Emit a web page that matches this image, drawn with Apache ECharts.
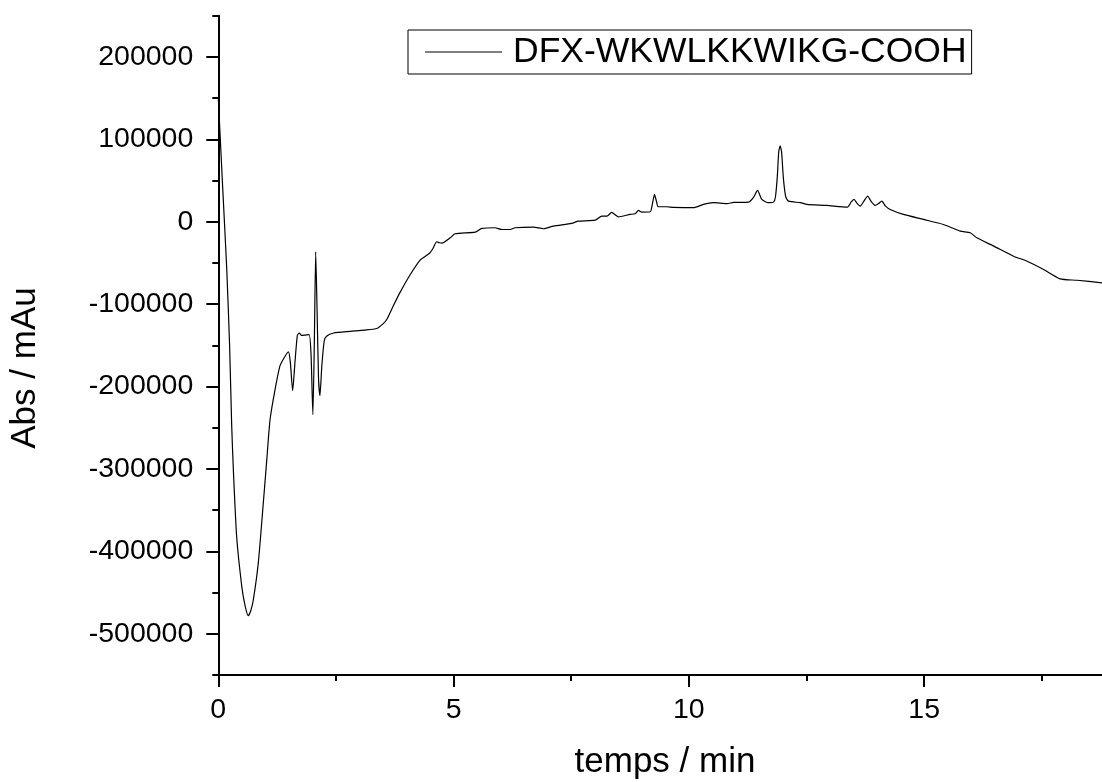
<!DOCTYPE html>
<html>
<head>
<meta charset="utf-8">
<script src="https://cdn.jsdelivr.net/npm/echarts@6/dist/echarts.min.js"></script>
<style>
html,body{margin:0;padding:0;background:#fff;}
#chart{width:1102px;height:782px;}
</style>
</head>
<body>
<div id="chart"></div>
<script>
// ---- data ----
const seriesName = 'DFX-WKWLKKWIKG-COOH';
const xTitle = 'temps / min';
const yTitle = 'Abs / mAu';
const xMajorTicks = [0, 5, 10, 15];
const xMinorTicks = [2.5, 7.5, 12.5, 17.5];
const yMajorTicks = [-500000, -400000, -300000, -200000, -100000, 0, 100000, 200000];
const yMinorTicks = [-550000, -450000, -350000, -250000, -150000, -50000, 50000, 150000, 250000];

const time = [
  0, 0.09, 0.18, 0.24, 0.285, 0.32, 0.39, 0.5, 0.57, 0.638, 0.69, 0.744, 0.85, 0.957, 1.03, 1.10,
  1.205, 1.31, 1.40, 1.49, 1.53, 1.58, 1.63, 1.68, 1.72, 1.77, 1.85, 1.93, 1.97, 2.01, 2.04, 2.07,
  2.10, 2.13, 2.16, 2.20, 2.25, 2.30, 2.45, 2.8, 3.1, 3.37, 3.50, 3.58, 3.72, 3.86, 4.08, 4.29,
  4.50, 4.57, 4.64, 4.70, 4.75, 4.93, 5.03, 5.46, 5.60, 5.88, 6.02, 6.20, 6.31, 6.70, 6.91, 7.12,
  7.51, 7.65, 8.01, 8.15, 8.26, 8.36, 8.50, 8.75, 8.86, 8.93, 9.00, 9.18, 9.22, 9.27, 9.31, 9.35,
  9.53, 9.67, 10.10, 10.31, 10.52, 10.81, 10.95, 11.27, 11.37, 11.46, 11.55, 11.69, 11.80, 11.84,
  11.88, 11.91, 11.94, 11.97, 12.01, 12.06, 12.12, 12.37, 12.51, 12.93, 13.37, 13.45, 13.51, 13.58,
  13.64, 13.72, 13.80, 13.88, 13.96, 14.03, 14.10, 14.18, 14.28, 14.56, 14.99, 15.41, 15.77, 15.98,
  16.12, 16.48, 16.90, 17.19, 17.54, 17.89, 18.25, 18.78
];
const absorbance = [
  150000, 45000, -58000, -150000, -248000, -301000, -382000, -443000, -466000, -478000, -472000, -459000, -414000, -341000, -289000, -240000,
  -204000, -175000, -165000, -158000, -170000, -205000, -170000, -138000, -135000, -138000, -137500, -137000, -160000, -234000, -150000, -36500,
  -110000, -190000, -211000, -175000, -145000, -139000, -135000, -133000, -131500, -129600, -124000, -118700, -102000, -86000, -64000, -46500,
  -37700, -31600, -24300, -25500, -26000, -19500, -14600, -12600, -8100, -7300, -9400, -9400, -7300, -6500, -8500, -5300,
  -2100, 700, 1900, 6800, 6800, 11300, 6000, 8900, 9700, 13700, 11700, 12100, 20000, 33200, 25000, 18200,
  18200, 17500, 17000, 21000, 23100, 21900, 23400, 23800, 29200, 38000, 27100, 23100, 23800, 30000,
  55000, 85000, 92000, 85000, 52000, 30000, 25000, 23100, 21000, 19800, 17700, 24000, 27100, 22000,
  19000, 25000, 31100, 24000, 19800, 22000, 25000, 19000, 14900, 8900, 2800, -3300, -11400, -13400,
  -19500, -29600, -41800, -47900, -58000, -69300, -71000, -74100
];

// ---- chart ----
const X_MIN = 0, X_MAX = 18.78, Y_MIN = -550000, Y_MAX = 250000;
const FONT = '"Liberation Sans", Arial, sans-serif';
const points = time.map((t, i) => [t, absorbance[i]]);

const chart = echarts.init(document.getElementById('chart'), null, {renderer: 'canvas'});
const axisLineStyle = {color: '#000', width: 2};
chart.setOption({
  animation: false,
  backgroundColor: '#fff',
  grid: {left: 218.3, top: 15.7, right: 0, bottom: 107, outerBoundsMode: 'none', containLabel: false},
  legend: {
    show: true,
    left: 408, top: 30,
    padding: [4, 5, 4, 17],
    borderColor: '#000', borderWidth: 1,
    icon: 'rect',
    itemWidth: 77, itemHeight: 1.3,
    itemStyle: {color: '#555', borderWidth: 0},
    textStyle: {fontFamily: FONT, fontSize: 35.5, color: '#000', padding: [0, 4, 0, 6]},
    data: [seriesName]
  },
  xAxis: [{
    type: 'value', min: X_MIN, max: X_MAX, position: 'bottom',
    axisLine: {show: true, onZero: false, lineStyle: axisLineStyle},
    axisTick: {show: true, length: 12, lineStyle: axisLineStyle, customValues: xMajorTicks},
    axisLabel: {customValues: xMajorTicks, margin: 21, fontFamily: FONT, fontSize: 28.5, color: '#000', formatter: v => String(v)},
    splitLine: {show: false}
  }, {
    type: 'value', min: X_MIN, max: X_MAX, position: 'bottom', gridIndex: 0,
    axisLine: {show: false, onZero: false},
    axisTick: {show: true, length: 6, lineStyle: axisLineStyle, customValues: xMinorTicks},
    axisLabel: {show: false},
    splitLine: {show: false}
  }],
  yAxis: [{
    type: 'value', min: Y_MIN, max: Y_MAX, position: 'left',
    axisLine: {show: true, onZero: false, lineStyle: axisLineStyle},
    axisTick: {show: true, length: 12, lineStyle: axisLineStyle, customValues: yMajorTicks},
    axisLabel: {customValues: yMajorTicks, margin: 25, fontFamily: FONT, fontSize: 28.5, color: '#000', formatter: v => String(v)},
    splitLine: {show: false}
  }, {
    type: 'value', min: Y_MIN, max: Y_MAX, position: 'left', gridIndex: 0,
    axisLine: {show: false, onZero: false},
    axisTick: {show: true, length: 6, lineStyle: axisLineStyle, customValues: yMinorTicks},
    axisLabel: {show: false},
    splitLine: {show: false}
  }],
  graphic: [
    {type: 'text', x: 665, y: 762, style: {text: xTitle, font: '35px ' + FONT, fill: '#000', align: 'center', verticalAlign: 'middle'}},
    {type: 'text', x: 25, y: 368, rotation: Math.PI / 2, style: {text: yTitle, font: '35px ' + FONT, fill: '#000', align: 'center', verticalAlign: 'middle'}}
  ],
  series: [{
    name: seriesName, type: 'line', xAxisIndex: 0, yAxisIndex: 0,
    data: points, showSymbol: false, symbol: 'none', smooth: 0.2,
    lineStyle: {color: '#000', width: 1.2},
    clip: true
  }]
});
</script>
</body>
</html>
